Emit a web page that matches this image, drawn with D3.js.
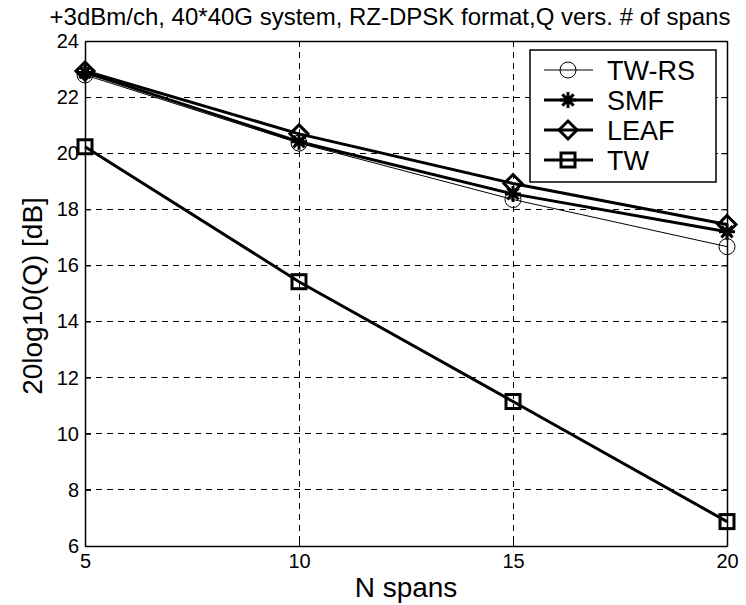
<!DOCTYPE html>
<html>
<head>
<meta charset="utf-8">
<script src="https://cdn.jsdelivr.net/npm/d3@7"></script>
<style>
  body { margin: 0; background: #fff; }
  text { font-family: Arial, "Liberation Sans", sans-serif; fill: #000; }
</style>
</head>
<body>
<script>
// spans on the x axis
const spans = [5, 10, 15, 20];
const xTicks = [5, 10, 15, 20];
const yTicks = [6, 8, 10, 12, 14, 16, 18, 20, 22, 24];

// Q values
const twrs = [22.79, 20.36, 18.35, 16.67];
const smf = [22.88, 20.41, 18.55, 17.2];
const leaf = [22.93, 20.69, 18.92, 17.46];
const tw = [20.23, 15.42, 11.15, 6.87];

const seriesNames = ['TW-RS', 'SMF', 'LEAF', 'TW'];
const seriesValues = [twrs, smf, leaf, tw];

const W = 746, H = 605;
const margin = { top: 41, right: 19, bottom: 59, left: 85 };
const width = W - margin.left - margin.right;
const height = H - margin.top - margin.bottom;

const svg = d3.select('body').append('svg')
    .attr('width', W)
    .attr('height', H);

const g = svg.append('g')
    .attr('transform', `translate(${margin.left}, ${margin.top})`);

const x = d3.scaleLinear().domain([5, 20]).range([0, width]);
const y = d3.scaleLinear().domain([6, 24]).range([height, 0]);

// grid
g.append('g').selectAll('line')
    .data(xTicks.slice(1, -1))
    .enter().append('line')
    .attr('x1', d => x(d)).attr('x2', d => x(d))
    .attr('y1', 0).attr('y2', height)
    .attr('stroke', '#000').attr('stroke-width', 1)
    .attr('stroke-dasharray', '6,5')
    .attr('shape-rendering', 'crispEdges');
g.append('g').selectAll('line')
    .data(yTicks.slice(1, -1))
    .enter().append('line')
    .attr('x1', 0).attr('x2', width)
    .attr('y1', d => y(d)).attr('y2', d => y(d))
    .attr('stroke', '#000').attr('stroke-width', 1)
    .attr('stroke-dasharray', '6,5')
    .attr('shape-rendering', 'crispEdges');

// axes (ticks inside like matlab)
const axL = g.append('g').call(d3.axisLeft(y).tickValues(yTicks).tickSizeInner(-6).tickSizeOuter(0).tickPadding(6));
const axB = g.append('g').attr('transform', `translate(0, ${height})`)
    .call(d3.axisBottom(x).tickValues(xTicks).tickSizeInner(-6).tickSizeOuter(0).tickPadding(8));
const axR = g.append('g').attr('transform', `translate(${width}, 0)`)
    .call(d3.axisRight(y).tickValues(yTicks).tickSizeInner(-6).tickSizeOuter(0).tickFormat(''));
const axT = g.append('g')
    .call(d3.axisTop(x).tickValues(xTicks).tickSizeInner(-6).tickSizeOuter(0).tickFormat(''));
[axL, axB, axR, axT].forEach(a => {
    a.selectAll('path').attr('stroke', '#000').attr('stroke-width', 1.5);
    a.selectAll('line').attr('stroke', '#000');
    a.selectAll('text').style('font-size', '20px').attr('font-family', 'Arial, "Liberation Sans", sans-serif');
});
axB.selectAll('text').attr('dy', '0.72em');

// lines
const line = d3.line().x((d, i) => x(spans[i])).y(d => y(d));
const widths = [1, 3, 3, 3];
seriesValues.forEach((vals, k) => {
    g.append('path')
        .datum(vals)
        .attr('fill', 'none')
        .attr('stroke', '#000')
        .attr('stroke-width', widths[k])
        .attr('d', line);
});

// markers
function drawMarker(sel, kind, cx, cy) {
    if (kind === 0) {
        sel.append('circle').attr('cx', cx).attr('cy', cy).attr('r', 8)
            .attr('fill', 'none').attr('stroke', '#000').attr('stroke-width', 1);
    } else if (kind === 1) {
        const r = 8;
        const p = d3.path();
        for (let a = 0; a < 4; a++) {
            const ang = a * Math.PI / 4;
            p.moveTo(cx - r * Math.cos(ang), cy - r * Math.sin(ang));
            p.lineTo(cx + r * Math.cos(ang), cy + r * Math.sin(ang));
        }
        sel.append('path').attr('d', p.toString())
            .attr('stroke', '#000').attr('stroke-width', 3).attr('fill', 'none');
    } else if (kind === 2) {
        const r = 9;
        sel.append('path')
            .attr('d', `M${cx},${cy - r}L${cx + r},${cy}L${cx},${cy + r}L${cx - r},${cy}Z`)
            .attr('fill', 'none').attr('stroke', '#000').attr('stroke-width', 3);
    } else {
        const s = 7;
        sel.append('rect').attr('x', cx - s).attr('y', cy - s)
            .attr('width', 2 * s).attr('height', 2 * s)
            .attr('fill', 'none').attr('stroke', '#000').attr('stroke-width', 3);
    }
}
seriesValues.forEach((vals, k) => {
    vals.forEach((v, i) => drawMarker(g, k, x(spans[i]), y(v)));
});

// legend
const lg = svg.append('g');
lg.append('rect').attr('x', 530).attr('y', 50).attr('width', 186).attr('height', 132)
    .attr('fill', '#fff').attr('stroke', '#000').attr('stroke-width', 1.5);
seriesNames.forEach((name, k) => {
    const ly = 70 + k * 30;
    lg.append('line').attr('x1', 544).attr('x2', 593).attr('y1', ly).attr('y2', ly)
        .attr('stroke', '#000').attr('stroke-width', widths[k]);
    drawMarker(lg, k, 568, ly);
    lg.append('text').attr('x', 607).attr('y', ly).attr('dy', '0.36em')
        .style('font-size', '27px').text(name);
});

// labels
svg.append('text').attr('x', 390).attr('y', 25)
    .attr('text-anchor', 'middle').style('font-size', '24px')
    .text('+3dBm/ch, 40*40G system, RZ-DPSK format,Q vers. # of spans');
svg.append('text').attr('x', margin.left + width / 2).attr('y', 597)
    .attr('text-anchor', 'middle').style('font-size', '28px')
    .text('N spans');
svg.append('text')
    .attr('transform', `translate(42, 296) rotate(-90)`)
    .attr('text-anchor', 'middle').style('font-size', '28px')
    .text('20log10(Q) [dB]');
</script>
</body>
</html>
